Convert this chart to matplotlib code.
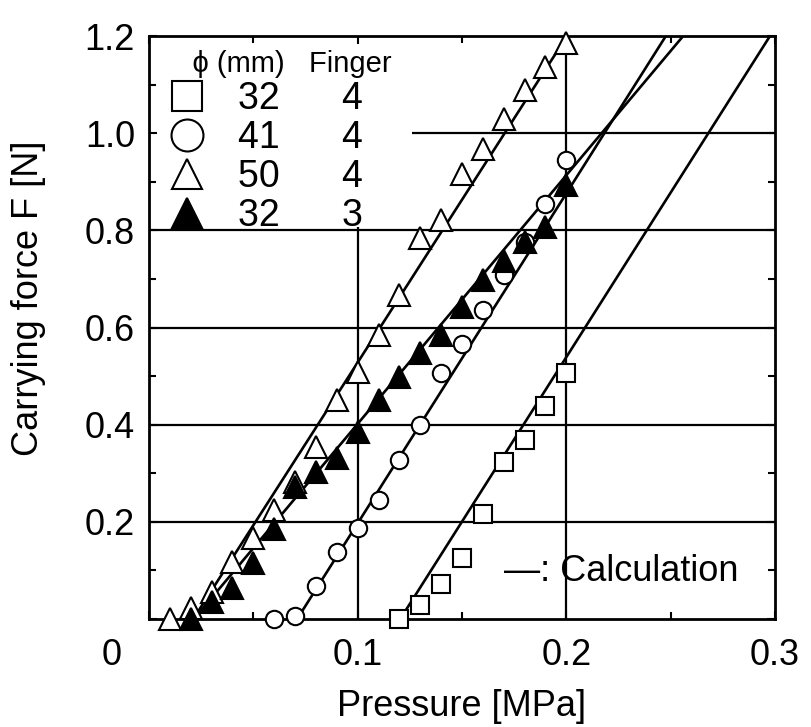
import matplotlib
matplotlib.use('Agg')
import matplotlib.pyplot as plt
from matplotlib.lines import Line2D
from matplotlib.patches import Rectangle
from matplotlib.ticker import MultipleLocator

plt.rcParams['font.family'] = ['Liberation Sans', 'DejaVu Sans']

# ---- data ----
# phi 32 mm, 4 fingers (open squares)
x_sq = [0.12, 0.13, 0.14, 0.15, 0.16, 0.17, 0.18, 0.19, 0.20]
y_sq = [0.0, 0.029, 0.072, 0.125, 0.217, 0.324, 0.368, 0.439, 0.506]
# phi 41 mm, 4 fingers (open circles)
x_ci = [0.06, 0.07, 0.08, 0.09, 0.10, 0.11, 0.12, 0.13, 0.14, 0.15, 0.16, 0.17, 0.18, 0.19, 0.20]
y_ci = [0.0, 0.006, 0.068, 0.138, 0.187, 0.245, 0.327, 0.399, 0.506, 0.567, 0.637, 0.708, 0.775, 0.855, 0.944]
# phi 50 mm, 4 fingers (open triangles)
x_tr = [0.01, 0.02, 0.03, 0.04, 0.05, 0.06, 0.07, 0.08, 0.09, 0.10,
        0.11, 0.12, 0.13, 0.14, 0.15, 0.16, 0.17, 0.18, 0.19, 0.20]
y_tr = [0.0, 0.022, 0.056, 0.118, 0.166, 0.224, 0.283, 0.355, 0.451, 0.509,
        0.584, 0.667, 0.784, 0.821, 0.916, 0.968, 1.030, 1.088, 1.136, 1.185]
# phi 32 mm, 3 fingers (filled triangles)
x_ft = [0.02, 0.03, 0.04, 0.05, 0.06, 0.07, 0.08, 0.09, 0.10,
        0.11, 0.12, 0.13, 0.14, 0.15, 0.16, 0.17, 0.18, 0.19, 0.20]
y_ft = [0.0, 0.036, 0.063, 0.115, 0.185, 0.272, 0.303, 0.331, 0.385,
        0.451, 0.499, 0.547, 0.584, 0.643, 0.698, 0.737, 0.776, 0.807, 0.893]

# calculation lines (start, end)
calc_x_tr = [0.0212, 0.2003]
calc_x_ft = [0.0215, 0.2560]
calc_x_ci = [0.0710, 0.2477]
calc_x_sq = [0.1204, 0.2976]
calc_y = [0.0, 1.2]

legend_diam = ['32', '41', '50', '32']
legend_fing = ['4', '4', '4', '3']

x_ticks = [0.0, 0.1, 0.2, 0.3]
x_labels = ['', '0.1', '0.2', '0.3']
y_ticks = [0.0, 0.2, 0.4, 0.6, 0.8, 1.0, 1.2]
y_labels = ['', '0.2', '0.4', '0.6', '0.8', '1.0', '1.2']
grid_x = [0.1, 0.2]
grid_y = [0.2, 0.4, 0.6, 0.8, 1.0]

# ---- figure ----
fig = plt.figure(figsize=(8.11, 7.27), dpi=100)
ax = fig.add_axes([149/811, 1-619/727, 626/811, 583/727])
ax.set_xlim(0, 0.3)
ax.set_ylim(0, 1.2)

for g in grid_y:
    ax.axhline(g, color='black', lw=1.6, zorder=1)
for g in grid_x:
    ax.axvline(g, color='black', lw=1.6, zorder=1)

# white background behind the legend table
ax.add_patch(Rectangle((0, 0.806), 0.1258, 0.4, facecolor='white',
                       edgecolor='none', zorder=1.5))

lw = 1.9
for cx in (calc_x_tr, calc_x_ft, calc_x_ci, calc_x_sq):
    ax.plot(cx, calc_y, color='black', lw=lw, zorder=2)

mk = dict(ls='none', mec='black', mew=1.5, clip_on=False, zorder=3)
ax.plot(x_sq, y_sq, marker='s', ms=12.5, mfc='white', **mk)
ax.plot(x_ci, y_ci, marker='o', ms=12.5, mfc='white', **mk)
ax.plot(x_tr, y_tr, marker='^', ms=15.5, mfc='white', **mk)
ax.plot(x_ft, y_ft, marker='^', ms=15.5, mfc='black', **mk)

# ticks
ax.set_xticks(x_ticks)
ax.set_xticklabels(x_labels)
ax.set_yticks(y_ticks)
ax.set_yticklabels(y_labels)
ax.xaxis.set_minor_locator(MultipleLocator(0.05))
ax.yaxis.set_minor_locator(MultipleLocator(0.1))
ax.tick_params(which='both', direction='in', top=True, right=True, width=1.5)
ax.tick_params(which='major', length=6)
ax.tick_params(which='minor', length=5)
ax.tick_params(axis='x', which='major', labelsize=26, pad=14)
ax.tick_params(axis='y', which='major', labelsize=26, pad=10)
for s in ax.spines.values():
    s.set_linewidth(2)

ax.annotate('0', xy=(0, 0), xycoords='data', xytext=(-27, -26),
            textcoords='offset points', ha='center', va='center',
            fontsize=26, annotation_clip=False)

ax.set_xlabel('Pressure [MPa]', fontsize=26)
ax.set_ylabel('Carrying force F [N]', fontsize=26)
ax.xaxis.set_label_coords(0.5, -0.12)
ax.yaxis.set_label_coords(-0.192, 0.55)
ax.yaxis.label.set_va('center')

ax.text(0.17, 0.097, '\u2014: Calculation', fontsize=26, ha='left', va='center')

# legend table
handles = [
    Line2D([], [], ls='none', marker='s', ms=22, mfc='white', mec='black', mew=1.5),
    Line2D([], [], ls='none', marker='o', ms=23, mfc='white', mec='black', mew=1.5),
    Line2D([], [], ls='none', marker='^', ms=21, mfc='white', mec='black', mew=1.5),
    Line2D([], [], ls='none', marker='^', ms=21, mfc='black', mec='black', mew=1.5),
]
labels = [f'{d}      {n}' for d, n in zip(legend_diam, legend_fing)]
leg = ax.legend(handles, labels, title='    \u03d5 (mm)   Finger',
                loc='upper left', bbox_to_anchor=(0, 1 - 3/583), borderaxespad=0,
                frameon=False, fontsize=27, title_fontsize=21,
                handlelength=1.4, handletextpad=0.68, labelspacing=0.08,
                borderpad=0.3, alignment='left')
leg.set_zorder(2)

fig.savefig('out.png', dpi=100)
